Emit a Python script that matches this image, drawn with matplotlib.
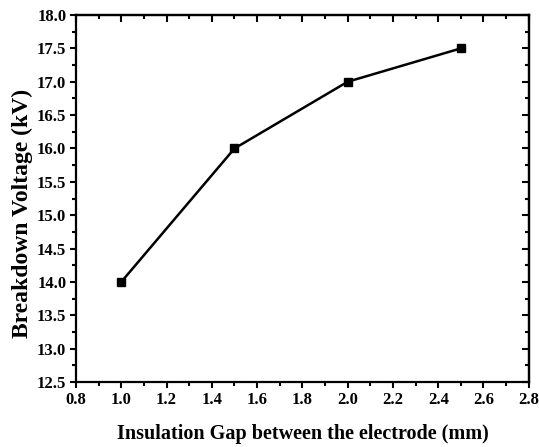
import matplotlib
matplotlib.use('Agg')
import matplotlib.pyplot as plt
from matplotlib.ticker import MultipleLocator

# data
gap_mm = [1.0, 1.5, 2.0, 2.5]
breakdown_kv = [14.0, 16.0, 17.0, 17.5]

plt.rcParams['font.family'] = ['Liberation Serif', 'DejaVu Serif']
plt.rcParams['font.weight'] = 'bold'

fig = plt.figure(figsize=(5.39, 4.47), dpi=100)
ax = fig.add_axes([0.141, 0.1454, 0.840, 0.821])

ax.plot(gap_mm, breakdown_kv, color='black', linewidth=1.8,
        marker='s', markersize=5.5, markerfacecolor='black')

ax.set_xlim(0.8, 2.8)
ax.set_ylim(12.5, 18.0)
ax.xaxis.set_major_locator(MultipleLocator(0.2))
ax.xaxis.set_minor_locator(MultipleLocator(0.1))
ax.yaxis.set_major_locator(MultipleLocator(0.5))
ax.yaxis.set_minor_locator(MultipleLocator(0.25))
ax.xaxis.set_major_formatter(plt.FormatStrFormatter('%.1f'))
ax.yaxis.set_major_formatter(plt.FormatStrFormatter('%.1f'))

for s in ax.spines.values():
    s.set_linewidth(1.6)

ax.tick_params(which='both', direction='out', width=1.5, labelsize=12,
               top=False, right=False)
ax.tick_params(which='major', length=4, pad=3)
ax.tick_params(which='minor', length=3)

# inward ticks on top and right
ax_t = ax.secondary_xaxis('top')
ax_t.xaxis.set_major_locator(MultipleLocator(0.2))
ax_t.xaxis.set_minor_locator(MultipleLocator(0.1))
ax_t.tick_params(which='both', direction='in', width=1.5, labeltop=False)
ax_t.tick_params(which='major', length=5)
ax_t.tick_params(which='minor', length=3)
ax_r = ax.secondary_yaxis('right')
ax_r.yaxis.set_major_locator(MultipleLocator(0.5))
ax_r.yaxis.set_minor_locator(MultipleLocator(0.25))
ax_r.tick_params(which='both', direction='in', width=1.5, labelright=False)
ax_r.tick_params(which='major', length=5)
ax_r.tick_params(which='minor', length=3)
for a in (ax_t, ax_r):
    for s in a.spines.values():
        s.set_linewidth(1.6)

ax.set_xlabel('Insulation Gap between the electrode (mm)', fontsize=14.5,
              fontweight='bold', labelpad=12)
ax.set_ylabel('Breakdown Voltage (kV)', fontsize=17, fontweight='bold')
ax.yaxis.set_label_coords(-0.095, 0.46)

fig.savefig('out.png', dpi=100)
